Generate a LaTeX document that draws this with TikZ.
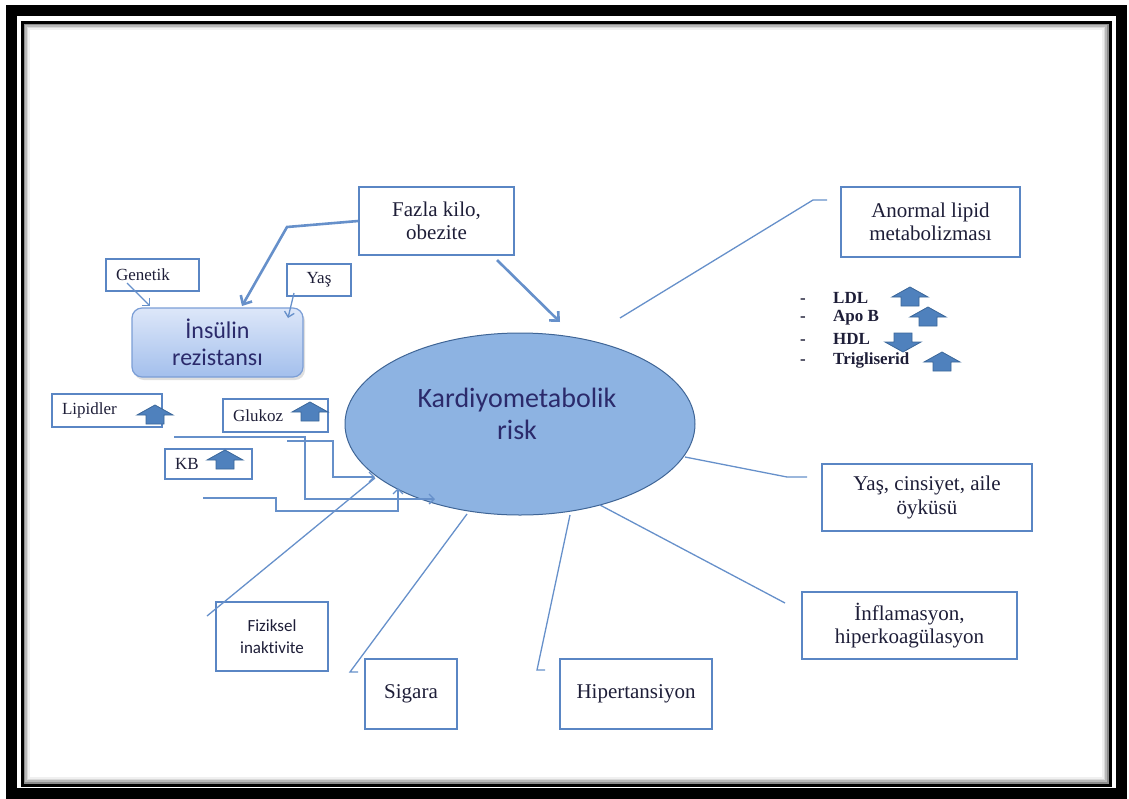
\documentclass[tikz,border=0pt]{standalone}
\usepackage{fontspec}
\setmainfont{Liberation Serif}
\newfontfamily\calfont[Ligatures=NoCommon]{Carlito}
\usetikzlibrary{shapes}
\usetikzlibrary{positioning}
\usetikzlibrary{arrows.meta}
\usetikzlibrary{shadows}
\definecolor{boxline}{HTML}{5A86C4}
\definecolor{conline}{HTML}{6690CA}
\definecolor{riskfill}{HTML}{8DB3E2}
\definecolor{riskline}{HTML}{3F6596}
\definecolor{arrfill}{HTML}{4F81BD}
\definecolor{arrline}{HTML}{3A6699}
\definecolor{instop}{HTML}{DDE7F9}
\definecolor{insbot}{HTML}{A3BFEC}
\definecolor{insline}{HTML}{7B9ED6}
\definecolor{navytxt}{HTML}{2B2A6B}
\definecolor{boxtxt}{HTML}{1E1E38}
\tikzset{
    box/.style = {rectangle, draw=boxline, line width=1.6pt, align=center, inner sep=0pt, text=boxtxt, font=\fontsize{21}{23.5}\selectfont},
    smallbox/.style = {rectangle, draw=boxline, line width=1.6pt, align=left, inner xsep=10pt, inner ysep=0pt, text=boxtxt, font=\fontsize{17}{19}\selectfont},
    risk/.style = {ellipse, draw=riskline, line width=1pt, fill=riskfill, minimum width=350pt, minimum height=182pt, inner sep=0pt},
    risktxt/.style = {align=center, inner sep=0pt, text=navytxt, font=\calfont\fontsize{28}{32}\selectfont},
    insbox/.style = {rectangle, rounded corners=10pt, draw=insline, line width=1.2pt, top color=instop, bottom color=insbot, align=center, inner sep=0pt, text=navytxt, font=\calfont\fontsize{24}{27}\selectfont, drop shadow={shadow xshift=2pt, shadow yshift=-3pt, opacity=0.25}},
    listtxt/.style = {anchor=west, inner sep=0pt, text=boxtxt, font=\bfseries\fontsize{17}{19}\selectfont},
    edgen/.style = {conline, line width=1.3pt},
    edgea/.style = {conline, line width=1.3pt, -{Straight Barb[length=5pt,width=10pt]}},
    edgeak/.style = {conline, line width=2.6pt, -{Straight Barb[length=7pt,width=13pt]}},
    uparr/.pic = {\draw[fill=arrfill, draw=arrline, line width=0.8pt] (-9,9) -- (-9,0) -- (-18,0) -- (0,-10) -- (18,0) -- (9,0) -- (9,9) -- cycle;},
}

\begin{document}
\begin{tikzpicture}[x=1pt,y=-1pt]
\useasboundingbox (0,0) rectangle (1129,798);
% frame
\draw[line width=11pt] (11,10) rectangle (1121,793);
\draw[line width=3pt] (22,22) rectangle (1110,785);
\draw[black!45, line width=1.6pt] (24.3,24.3) rectangle (1107.7,782.7);
\draw[black!28, line width=1.6pt] (25.9,25.9) rectangle (1106.1,781.1);
\draw[black!15, line width=1.6pt] (27.5,27.5) rectangle (1104.5,779.5);
\draw[black!6, line width=1.6pt] (29.1,29.1) rectangle (1102.9,777.9);
%
\node[risk] at (520,424) (risk) {};
\node[risktxt] at (517,414) (risklbl) {Kardiyometabolik\\risk};
\node[box, minimum width=155pt, minimum height=68pt] at (436.5,221) (kilo) {Fazla kilo,\\obezite};
\node[smallbox, text width=73pt, minimum height=32pt] at (152.5,275) (genetik) {Genetik};
\node[box, font=\fontsize{17}{19}\selectfont, minimum width=64pt, minimum height=32pt] at (319,280) (yas) {Yaş};
\node[insbox, minimum width=171pt, minimum height=69pt] at (217.5,342.5) (insulin) {İnsülin\\rezistansı};
\node[box, minimum width=179pt, minimum height=70pt] at (930.5,222) (anormal) {Anormal lipid\\metabolizması};
\node[smallbox, text width=90pt, minimum height=33pt] at (107,410.5) (lipidler) {Lipidler};
\node[smallbox, text width=85pt, minimum height=33pt] at (275.5,415.5) (glukoz) {Glukoz};
\node[smallbox, text width=67pt, minimum height=30pt] at (208.5,464) (kb) {KB};
\node[box, font=\calfont\fontsize{17}{22}\selectfont, minimum width=112pt, minimum height=69pt] at (272,636.5) (fiziksel) {Fiziksel\\inaktivite};
\node[box, minimum width=92pt, minimum height=70pt] at (411,694) (sigara) {Sigara};
\node[box, minimum width=152pt, minimum height=70pt] at (636,694) (hiper) {Hipertansiyon};
\node[box, minimum width=215pt, minimum height=67pt] at (909.5,625.5) (inflam) {İnflamasyon,\\hiperkoagülasyon};
\node[box, minimum width=210pt, minimum height=67pt] at (927,497.5) (yascins) {Yaş, cinsiyet, aile\\öyküsü};
%
\node[listtxt] at (800,298) (ldl) {\makebox[33pt][l]{-}LDL};
\node[listtxt] at (800,318) (apob) {\makebox[33pt][l]{-}Apo B};
\node[listtxt] at (800,339) (hdl) {\makebox[33pt][l]{-}HDL};
\node[listtxt] at (800,360) (trig) {\makebox[33pt][l]{-}Trigliserid};
%
\pic at (910,297) {uparr};
\pic at (928,317) {uparr};
\pic[rotate=180] at (903,342) {uparr};
\pic at (942,362) {uparr};
\pic at (155,415) {uparr};
\pic at (310,412) {uparr};
\pic at (225,460) {uparr};
%
\coordinate (genS) at (127,283);
\coordinate (genE) at (150,306);
\coordinate (kiloB) at (287,227);
\coordinate (kiloE) at (242,306);
\coordinate (yasS) at (294,293);
\coordinate (yasE) at (288,318);
\coordinate (kiloS) at (497,260);
\coordinate (kiloR) at (560,322);
\coordinate (anoS) at (620,318);
\coordinate (anoB) at (813,200);
\coordinate (anoE) at (827,200);
\coordinate (ycS) at (685,457);
\coordinate (ycB) at (787,477);
\coordinate (ycE) at (807,477);
\coordinate (infS) at (600,505);
\coordinate (infE) at (785,603);
\coordinate (hipS) at (570,515);
\coordinate (hipB) at (537,670);
\coordinate (hipE) at (545,670);
\coordinate (sigS) at (467,514);
\coordinate (sigB) at (350,672);
\coordinate (sigE) at (358,672);
\coordinate (fizS) at (375,478);
\coordinate (fizE) at (207,616);
\coordinate (lipS) at (174,437);
\coordinate (lipE) at (435,499);
\coordinate (gluS) at (287,441);
\coordinate (gluE) at (375,477);
\coordinate (kbS) at (203,498);
\coordinate (kbE) at (398,488);
%
\draw[edgea] (genS) -- (genE);
\draw[edgeak] (kilo.west) -- (kiloB) -- (kiloE);
\draw[edgea] (yasS) -- (yasE);
\draw[edgeak] (kiloS) -- (kiloR);
\draw[edgen] (anoS) -- (anoB) -- (anoE);
\draw[edgen] (ycS) -- (ycB) -- (ycE);
\draw[edgen] (infS) -- (infE);
\draw[edgen] (hipS) -- (hipB) -- (hipE);
\draw[edgen] (sigS) -- (sigB) -- (sigE);
\draw[edgen] (fizS) -- (fizE);
\draw[edgea] (lipS) -| (305,499) -- (lipE);
\draw[edgea] (gluS) -| (333,477) -- (gluE);
\draw[edgea] (kbS) -| (276,511) -| (kbE);
\end{tikzpicture}
\end{document}
